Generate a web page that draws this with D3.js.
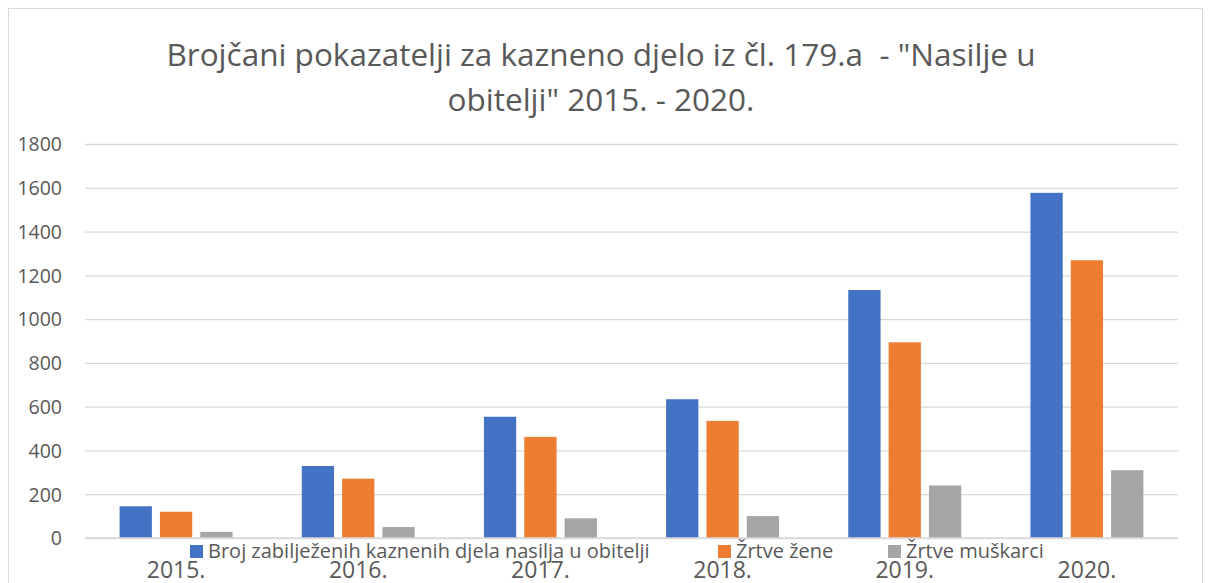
<!DOCTYPE html>
<html>
	<head>
		<meta charset="UTF-8">
		<title></title>
		<style>
			body {margin: 0; background: white;}
			text {font-family: "Open Sans", Lato, sans-serif; fill: #595959;}
			.naslov {white-space: pre;}
		</style>
	</head>
	<body>
		<script src="https://d3js.org/d3.v7.min.js" charset="utf-8"></script>
		<script>
			var width = 1210;
			var height = 583;
			// podaci
			var years = ["2015.", "2016.", "2017.", "2018.", "2019.", "2020."];
			var seriesNames = ["Broj zabilježenih kaznenih djela nasilja u obitelji", "Žrtve žene", "Žrtve muškarci"];
			var kaznenaDjela = [145, 329, 554, 634, 1133, 1577];
			var zrtveZene = [120, 271, 462, 535, 894, 1269];
			var zrtveMuskarci = [28, 50, 90, 100, 240, 310];
			var yTicks = [0, 200, 400, 600, 800, 1000, 1200, 1400, 1600, 1800];
			var colors = ["#4472c4", "#ed7d31", "#a5a5a5"];
			var titleLines = ["Brojčani pokazatelji za kazneno djelo iz čl. 179.a  - \"Nasilje u", "obitelji\" 2015. - 2020."];

			var series = [kaznenaDjela, zrtveZene, zrtveMuskarci];

			var svg = d3.select("body")
				.append("svg")
				.attr("width", width)
				.attr("height", height);

			// okvir
			svg.append("rect")
				.attr("x", 8.5)
				.attr("y", 8.5)
				.attr("width", 1194)
				.attr("height", 600)
				.attr("fill", "white")
				.attr("stroke", "#d9d9d9");

			var padding = {left: 85, right: 32, top: 144, bottom: 45};

			var xScale = d3.scaleBand()
				.domain(years)
				.range([padding.left, width - padding.right])
				.paddingInner(0.38)
				.paddingOuter(0.19);

			var xInner = d3.scaleBand()
				.domain(d3.range(series.length))
				.range([0, xScale.bandwidth()])
				.paddingInner(0.2);

			var yScale = d3.scaleLinear()
				.domain([0, 1800])
				.range([height - padding.bottom, padding.top]);

			// mreža
			var yAxis = d3.axisLeft(yScale)
				.tickValues(yTicks)
				.tickFormat(d3.format("d"))
				.tickSize(-(width - padding.left - padding.right))
				.tickPadding(23);
			var gy = svg.append("g")
				.attr("transform", "translate(" + padding.left + ",0)")
				.call(yAxis);
			gy.select(".domain").remove();
			gy.selectAll("line").attr("stroke", "#d9d9d9").attr("stroke-width", 1.3);
			gy.selectAll("text").attr("font-size", 19.5).attr("dy", "0.35em");

			// stupci
			series.forEach(function(vals, s) {
				svg.append("g")
					.selectAll("rect")
					.data(vals)
					.enter()
					.append("rect")
					.attr("x", function(d, i) { return xScale(years[i]) + xInner(s); })
					.attr("y", function(d) { return yScale(d); })
					.attr("width", xInner.bandwidth())
					.attr("height", function(d) { return yScale(0) - yScale(d); })
					.attr("fill", colors[s]);
			});

			// x os
			var xAxis = d3.axisBottom(xScale).tickSize(0).tickPadding(0);
			var gx = svg.append("g")
				.attr("transform", "translate(0," + yScale(0) + ")")
				.call(xAxis);
			gx.select(".domain").attr("stroke", "#d9d9d9").attr("stroke-width", 1.3)
				.attr("d", "M" + padding.left + ",0H" + (width - padding.right));
			gx.selectAll("text").attr("font-size", 23).attr("y", 40).attr("dy", 0);

			// legenda
			var legendX = [190, 718, 888];
			var legend = svg.append("g");
			seriesNames.forEach(function(name, s) {
				legend.append("rect")
					.attr("x", legendX[s])
					.attr("y", 545)
					.attr("width", 13)
					.attr("height", 13)
					.attr("fill", colors[s]);
				legend.append("text")
					.attr("x", legendX[s] + 18)
					.attr("y", 558)
					.attr("font-size", 20)
					.text(name);
			});

			// naslov
			svg.append("g")
				.selectAll("text")
				.data(titleLines)
				.enter()
				.append("text")
				.attr("class", "naslov")
				.attr("x", 601)
				.attr("y", function(d, i) { return 66 + i * 45; })
				.attr("text-anchor", "middle")
				.attr("font-size", 31.5)
				.text(function(d) { return d; });
		</script>
	</body>
</html>
